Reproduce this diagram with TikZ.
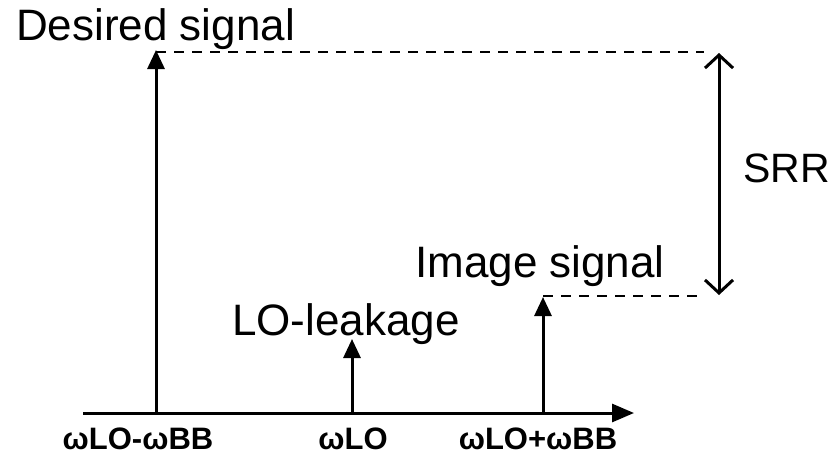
\documentclass[tikz,border=0pt]{standalone}
\usepackage{fontspec}
\setmainfont{Liberation Sans}
\usetikzlibrary{arrows.meta}
\begin{document}
\begin{tikzpicture}[x=1pt,y=-1pt,
  lbl/.style={inner sep=0pt,anchor=base west,font=\fontsize{44}{48}\selectfont},
  axl/.style={inner sep=0pt,anchor=base,font=\fontsize{31}{34}\selectfont\bfseries},
  sig/.style={line width=3pt,-{Triangle[length=19pt,width=17pt]}},
  dsh/.style={line width=1.8pt,dash pattern=on 10pt off 8pt},
  barb/.tip={Straight Barb[length=13pt,width=28pt,line width=3pt]}]
\useasboundingbox (0,0) rectangle (832,455);
% axis
\coordinate (a0) at (83,413);
\coordinate (a1) at (634,413);
\draw[line width=3pt,-{Triangle[length=22pt,width=18pt]}] (a0) -- (a1);
% signals
\coordinate (b1) at (156,413);
\coordinate (t1) at (156,50);
\coordinate (b2) at (352,413);
\coordinate (t2) at (352,339);
\coordinate (b3) at (543,413);
\coordinate (t3) at (543,297);
\draw[sig] (b1) -- (t1);
\draw[sig] (b2) -- (t2);
\draw[sig] (b3) -- (t3);
% dashed levels
\coordinate (d1) at (704,52);
\coordinate (d2) at (704,296);
\draw[dsh] (156,52) -- (d1);
\draw[dsh] (543,296) -- (d2);
% SRR
\coordinate (s1) at (719,53);
\coordinate (s2) at (719,295);
\draw[line width=3pt,barb-barb] (s1) -- (s2);
\node[lbl,font=\fontsize{41}{44}\selectfont] (srr) at (743,182) {SRR};
% labels
\node[lbl] (ds) at (16,40) {Desired signal};
\node[lbl] (lo) at (232,335) {LO-leakage};
\node[lbl] (im) at (415,277) {Image signal};
\node[axl] (w1) at (138,449) {ωLO-ωBB};
\node[axl] (w2) at (353,449) {ωLO};
\node[axl] (w3) at (538,449) {ωLO+ωBB};
\end{tikzpicture}
\end{document}
